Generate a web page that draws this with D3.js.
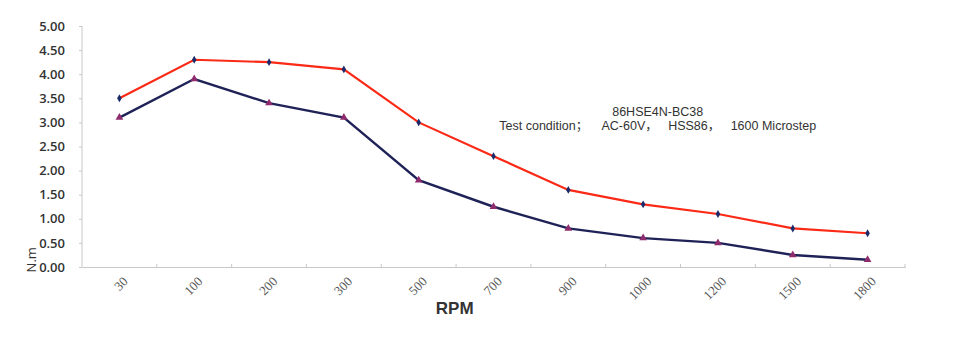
<!DOCTYPE html>
<html>
<head>
<meta charset="utf-8">
<script src="https://cdn.jsdelivr.net/npm/d3@7"></script>
<style>
  body { margin: 0; background: #fff; }
  svg { display: block; }
</style>
</head>
<body>
<div id="chart"></div>
<script>
// chart values
const rpm = ["30", "100", "200", "300", "500", "700", "900", "1000", "1200", "1500", "1800"];
const torqueHigh = [3.5, 4.3, 4.25, 4.1, 3.0, 2.3, 1.6, 1.3, 1.1, 0.8, 0.7];
const torqueLow = [3.1, 3.9, 3.4, 3.1, 1.8, 1.25, 0.8, 0.6, 0.5, 0.25, 0.15];
const yTicks = [0, 0.5, 1, 1.5, 2, 2.5, 3, 3.5, 4, 4.5, 5];
const noteLines = ["86HSE4N-BC38", "Test condition\uFF1B    AC-60V\uFF0C   HSS86\uFF0C   1600 Microstep"];

const W = 955, H = 354;
const margin = {top: 26, right: 50, bottom: 87, left: 82};
const width = W - margin.left - margin.right,
      height = H - margin.top - margin.bottom;

const svg = d3.select("#chart")
    .append("svg")
    .attr("width", W)
    .attr("height", H)
    .append("g")
    .attr("transform", `translate(${margin.left},${margin.top})`);

const x = d3.scaleBand()
    .domain(rpm)
    .range([0, width]);

const y = d3.scaleLinear()
    .domain([0, 5])
    .range([height, 0]);

// x axis
const xAxis = svg.append("g")
    .attr("transform", `translate(0,${height})`)
    .call(d3.axisBottom(x).tickSize(0));
xAxis.select(".domain").attr("stroke", "#c8c8c8");
xAxis.selectAll(".tick text")
    .attr("font-family", "'Liberation Serif', serif")
    .attr("font-size", 13)
    .attr("fill", "#555")
    .attr("text-anchor", "end")
    .attr("transform", "translate(6,12) rotate(-45)")
    .attr("dy", "0.35em")
    .attr("y", 0);
// tick marks at category boundaries
svg.append("g")
    .selectAll("line")
    .data(rpm.slice(1))
    .enter()
    .append("line")
    .attr("x1", d => x(d))
    .attr("x2", d => x(d))
    .attr("y1", height - 3)
    .attr("y2", height + 1)
    .attr("stroke", "#c8c8c8");
svg.append("line")
    .attr("x1", width).attr("x2", width)
    .attr("y1", height - 3).attr("y2", height + 1)
    .attr("stroke", "#c8c8c8");

// y axis
const yAxis = svg.append("g")
    .call(d3.axisLeft(y).tickValues(yTicks).tickFormat(d3.format(".2f")).tickSize(3).tickPadding(14));
yAxis.select(".domain").attr("stroke", "#c8c8c8").attr("d", `M0,0V${height}`);
yAxis.selectAll(".tick line").attr("stroke", "#c8c8c8");
yAxis.selectAll(".tick text")
    .attr("font-family", "'Open Sans', sans-serif")
    .attr("font-weight", 600)
    .attr("font-size", 13)
    .attr("fill", "#333");

// axis titles
svg.append("text")
    .attr("transform", `translate(${-margin.left + 36},${y(0.15)}) rotate(-90)`)
    .attr("text-anchor", "middle")
    .attr("font-family", "'Open Sans', sans-serif")
    .attr("font-size", 13)
    .attr("fill", "#333")
    .text("N.m");

svg.append("text")
    .attr("x", x("500") + x.bandwidth() / 2 + 36)
    .attr("y", height + 47)
    .attr("text-anchor", "middle")
    .attr("font-family", "'Liberation Sans', Arial, sans-serif")
    .attr("font-weight", "bold")
    .attr("font-size", 17)
    .attr("fill", "#333")
    .text("RPM");

// note text
svg.append("g")
    .selectAll("text")
    .data(noteLines)
    .enter()
    .append("text")
    .attr("x", x("1000") + 52)
    .attr("y", (d, i) => 90 + i * 14)
    .attr("text-anchor", "middle")
    .attr("font-family", "'Liberation Sans', 'Noto Sans CJK SC', sans-serif")
    .attr("font-size", 12.5)
    .attr("fill", "#333")
    .attr("xml:space", "preserve")
    .style("white-space", "pre")
    .text(d => d);

const cx = (d, i) => x(rpm[i]) + x.bandwidth() / 2;
const line = d3.line()
    .x(cx)
    .y(d => y(d));

// upper curve
svg.append("path")
    .datum(torqueHigh)
    .attr("fill", "none")
    .attr("stroke", "#fb2a16")
    .attr("stroke-width", 2.2)
    .attr("d", line);

// lower curve
svg.append("path")
    .datum(torqueLow)
    .attr("fill", "none")
    .attr("stroke", "#1f2257")
    .attr("stroke-width", 2.4)
    .attr("d", line);

// diamond markers
svg.selectAll(".mark-high")
    .data(torqueHigh)
    .enter()
    .append("path")
    .attr("class", "mark-high")
    .attr("transform", (d, i) => `translate(${cx(d, i)},${y(d)})`)
    .attr("d", d3.symbol().type(d3.symbolDiamond).size(18))
    .attr("fill", "#1c2a6a");

// triangle markers
svg.selectAll(".mark-low")
    .data(torqueLow)
    .enter()
    .append("path")
    .attr("class", "mark-low")
    .attr("transform", (d, i) => `translate(${cx(d, i)},${y(d)})`)
    .attr("d", d3.symbol().type(d3.symbolTriangle).size(26))
    .attr("fill", "#8e2c6e");
</script>
</body>
</html>
